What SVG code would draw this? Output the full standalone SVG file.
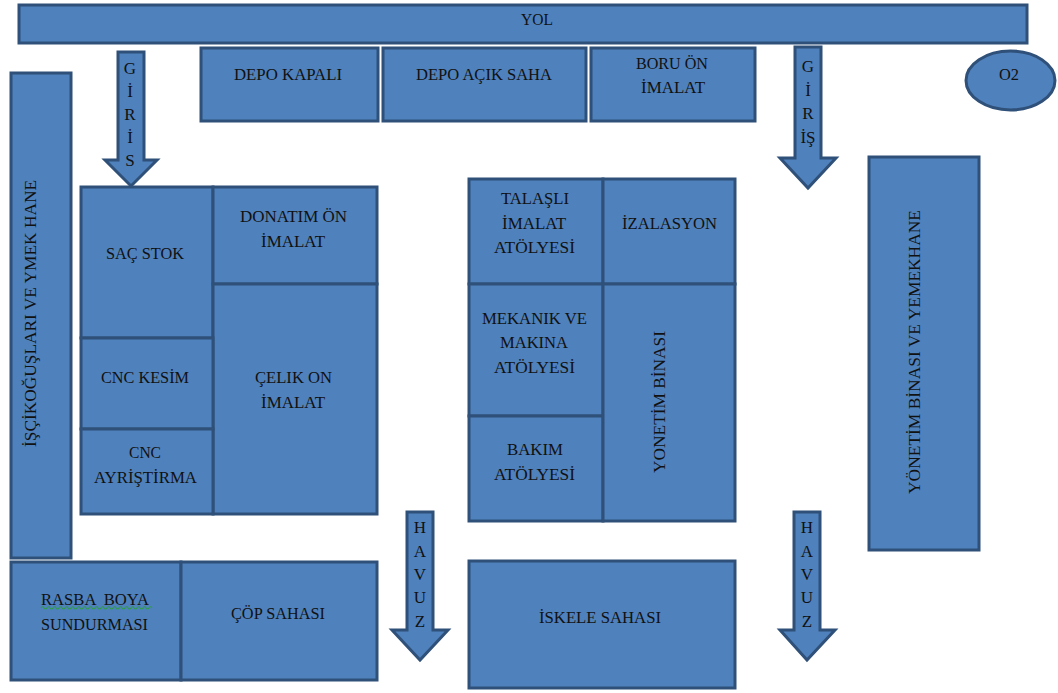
<svg xmlns="http://www.w3.org/2000/svg" width="1058" height="693" viewBox="0 0 1058 693">
<style>
.s{fill:#4f81bd;stroke:#2f5078;stroke-width:3}
text{font-family:"Liberation Serif","Times New Roman",serif;font-size:17px;fill:#111;text-anchor:middle}
</style>
<rect width="1058" height="693" fill="#fff"/>
<g id="yol"><rect class="s" x="19" y="5" width="1008" height="38"/><text x="537" y="25" textLength="32" lengthAdjust="spacingAndGlyphs">YOL</text></g>
<g id="depo-kapali"><rect class="s" x="201" y="48" width="177" height="73"/><text x="288" y="80" textLength="108" lengthAdjust="spacingAndGlyphs">DEPO KAPALI</text></g>
<g id="depo-acik"><rect class="s" x="383" y="48" width="203" height="73"/><text x="484" y="80" textLength="136" lengthAdjust="spacingAndGlyphs">DEPO AÇIK SAHA</text></g>
<g id="boru"><rect class="s" x="591" y="48" width="164" height="73"/><text x="672" y="69" textLength="72" lengthAdjust="spacingAndGlyphs">BORU ÖN</text><text x="673" y="93" textLength="64" lengthAdjust="spacingAndGlyphs">İMALAT</text></g>
<g id="o2"><ellipse class="s" cx="1010.500" cy="80.500" rx="44.500" ry="29.500"/><text x="1009" y="80" textLength="20" lengthAdjust="spacingAndGlyphs">O2</text></g>
<g id="isci"><rect class="s" x="11" y="73" width="60" height="485"/><text transform="translate(36 313.500) rotate(-90)" textLength="267" lengthAdjust="spacingAndGlyphs">İŞÇİKOĞUŞLARI VE YMEK HANE</text></g>
<g id="yonetim-yemek"><rect class="s" x="869" y="157" width="110" height="393"/><text transform="translate(920 352) rotate(-90)" textLength="284" lengthAdjust="spacingAndGlyphs">YÖNETİM BİNASI VE YEMEKHANE</text></g>
<g id="sac-stok"><rect class="s" x="81" y="187" width="132" height="151"/><text x="145" y="259" textLength="78" lengthAdjust="spacingAndGlyphs">SAÇ STOK</text></g>
<g id="donatim"><rect class="s" x="213" y="187" width="164" height="97"/><text x="293.500" y="222" textLength="107" lengthAdjust="spacingAndGlyphs">DONATIM ÖN</text><text x="293" y="247" textLength="64" lengthAdjust="spacingAndGlyphs">İMALAT</text></g>
<g id="celik"><rect class="s" x="213" y="284" width="164" height="230"/><text x="293.500" y="383" textLength="77" lengthAdjust="spacingAndGlyphs">ÇELIK ON</text><text x="293" y="408" textLength="64" lengthAdjust="spacingAndGlyphs">İMALAT</text></g>
<g id="cnc-kesim"><rect class="s" x="81" y="338" width="132" height="91"/><text x="145" y="383" textLength="88" lengthAdjust="spacingAndGlyphs">CNC KESİM</text></g>
<g id="cnc-ayristirma"><rect class="s" x="81" y="429" width="132" height="85"/><text x="145" y="458" textLength="32" lengthAdjust="spacingAndGlyphs">CNC</text><text x="145.500" y="483" textLength="103" lengthAdjust="spacingAndGlyphs">AYRİŞTİRMA</text></g>
<g id="talasli"><rect class="s" x="469" y="179" width="134" height="105"/><text x="535" y="204" textLength="68" lengthAdjust="spacingAndGlyphs">TALAŞLI</text><text x="534" y="229" textLength="64" lengthAdjust="spacingAndGlyphs">İMALAT</text><text x="534.500" y="253" textLength="81" lengthAdjust="spacingAndGlyphs">ATÖLYESİ</text></g>
<g id="izalasyon"><rect class="s" x="603" y="179" width="132" height="105"/><text x="669.500" y="229" textLength="95" lengthAdjust="spacingAndGlyphs">İZALASYON</text></g>
<g id="mekanik"><rect class="s" x="469" y="284" width="134" height="132"/><text x="534.500" y="324" textLength="105" lengthAdjust="spacingAndGlyphs">MEKANIK VE</text><text x="534" y="348" textLength="68" lengthAdjust="spacingAndGlyphs">MAKINA</text><text x="534.500" y="373" textLength="81" lengthAdjust="spacingAndGlyphs">ATÖLYESİ</text></g>
<g id="bakim"><rect class="s" x="469" y="416" width="134" height="105"/><text x="535" y="455" textLength="56" lengthAdjust="spacingAndGlyphs">BAKIM</text><text x="534.500" y="480" textLength="81" lengthAdjust="spacingAndGlyphs">ATÖLYESİ</text></g>
<g id="yonetim"><rect class="s" x="603" y="284" width="132" height="237"/><text transform="translate(665 402) rotate(-90)" textLength="142" lengthAdjust="spacingAndGlyphs">YONETİM BİNASI</text></g>
<g id="rasba"><rect class="s" x="11" y="562" width="170" height="118"/><text x="95" y="605" textLength="108" lengthAdjust="spacingAndGlyphs" xml:space="preserve">RASBA  BOYA</text><text x="94.500" y="630" textLength="107" lengthAdjust="spacingAndGlyphs">SUNDURMASI</text><path d="M41 608q1.500-2.400 3 0t3 0 3 0 3 0 3 0 3 0 3 0 3 0 3 0 3 0 3 0 3 0 3 0 3 0 3 0 3 0 3 0 3 0 3 0 3 0 3 0 3 0 3 0 3 0 3 0 3 0 3 0 3 0 3 0 3 0 3 0 3 0 3 0 3 0 3 0 3 0 3 0" fill="none" stroke="#2e9e3f" stroke-width="1.100"/></g>
<g id="cop"><rect class="s" x="181" y="562" width="196" height="118"/><text x="278" y="619" textLength="94" lengthAdjust="spacingAndGlyphs">ÇÖP SAHASI</text></g>
<g id="iskele"><rect class="s" x="469" y="561" width="266" height="127"/><text x="600" y="623" textLength="122" lengthAdjust="spacingAndGlyphs">İSKELE SAHASI</text></g>
<g id="giris-1"><path class="s" d="M118 52H144V160H157L131 186 105 160H118Z"/><text x="130" y="74">G</text><text x="130" y="97">İ</text><text x="130" y="120">R</text><text x="130" y="143">İ</text><text x="130" y="166">S</text></g>
<g id="giris-2"><path class="s" d="M795 47H821V158H836L808 188 780 158H795Z"/><text x="808" y="72">G</text><text x="808" y="96">İ</text><text x="808" y="119">R</text><text x="808" y="143">İŞ</text></g>
<g id="havuz-1"><path class="s" d="M407 512H433V630H448L420 660 392 630H407Z"/><text x="420" y="533">H</text><text x="420" y="557">A</text><text x="420" y="580">V</text><text x="420" y="603">U</text><text x="420" y="627">Z</text></g>
<g id="havuz-2"><path class="s" d="M794 512H820V630H835L807 660 780 630H794Z"/><text x="807" y="533">H</text><text x="807" y="557">A</text><text x="807" y="580">V</text><text x="807" y="603">U</text><text x="807" y="627">Z</text></g>
<g id="connectors"></g>
</svg>
